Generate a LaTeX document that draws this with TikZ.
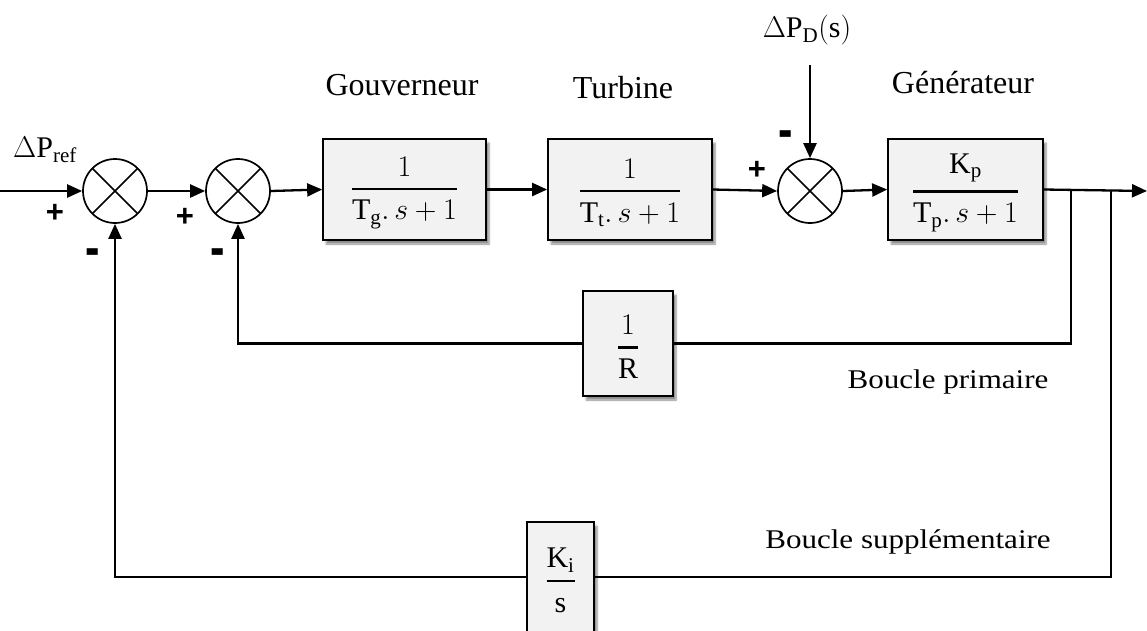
\RequirePackage{fix-cm}
\documentclass[tikz,border=0pt]{standalone}
\usepackage{amsmath}
\usepackage{fontspec}
\setmainfont{Liberation Serif}
\setsansfont{Liberation Sans}
\usetikzlibrary{arrows.meta,shadows.blur}

% transfer-function fraction with a heavy bar and open spacing
\newcommand\blockfrac[2]{\ensuremath{\displaystyle
  \genfrac{}{}{2.6pt}{0}{\rule[-3pt]{0pt}{29pt}#1}{\rule{0pt}{22pt}#2}}}
\definecolor{blockfill}{RGB}{242,242,242}

\begin{document}
\begin{tikzpicture}[x=1pt,y=-1pt,line width=2.3pt,
  >={Triangle[length=15pt,width=13pt]},
  block/.style={draw,fill=blockfill,line width=1.7pt,inner sep=0pt,
    blur shadow={shadow xshift=3pt,shadow yshift=-4pt,shadow blur steps=6,shadow opacity=45},
    font=\fontsize{30}{34}\selectfont},
  sum/.style={draw,circle,minimum size=64pt,inner sep=0pt,line width=1.7pt,fill=white,
    path picture={\draw[line width=1.7pt]
      (path picture bounding box.north west) -- (path picture bounding box.south east)
      (path picture bounding box.north east) -- (path picture bounding box.south west);}},
  title/.style={font=\fontsize{32}{36}\selectfont},
  loop/.style={font=\fontsize{27}{30}\selectfont},
  sign/.style={font=\sffamily\bfseries\fontsize{31}{31}\selectfont,inner sep=0pt},
  math/.style={font=\fontsize{30}{34}\selectfont}]
\useasboundingbox (0,0) rectangle (1147,630);

% summing junctions
\node[sum] (s1) at (115,191) {};
\node[sum] (s2) at (238,191) {};
\node[sum] (s3) at (810,191) {};

% transfer-function blocks
\node[block,minimum width=163pt,minimum height=101pt] (gov) at (404.5,189.5)
  {\blockfrac{1}{\mathrm{T_g}.\,s+1}};
\node[block,minimum width=164pt,minimum height=101pt] (tur) at (630,189.5)
  {\blockfrac{1}{\mathrm{T_t}.\,s+1}};
\node[block,minimum width=155pt,minimum height=101pt] (gen) at (965.5,189.5)
  {\blockfrac{\mathrm{K_p}}{\mathrm{T_p}.\,s+1}};
\node[block,minimum width=90pt,minimum height=105pt] (r) at (628,343.5)
  {\blockfrac{1}{\mathrm{R}}};
\node[block,minimum width=67pt,minimum height=110pt] (ki) at (560.5,577)
  {\blockfrac{\mathrm{K_i}}{\mathrm{s}}};

% block titles and inputs
\node[title] (tgov) at (402,85) {Gouverneur};
\node[title] (ttur) at (623,88) {Turbine};
\node[title] (tgen) at (963,83) {Générateur};
\node[math] (pref) at (45,150) {$\Delta\mathrm{P_{ref}}$};
\node[math] (pd) at (807,30) {$\Delta\mathrm{P_D(s)}$};
\node[loop] (lp) at (948,382) {\scalebox{1.15}[1]{Boucle primaire}};
\node[loop] (ls) at (908,542) {\scalebox{1.15}[1]{Boucle supplémentaire}};

% signs at the junctions
\node[sign] (p1) at (55,213) {+};
\node[sign] (m1) at (93,258) {\scalebox{1.4}[1.8]{-}};
\node[sign] (p2) at (185,217) {+};
\node[sign] (m2) at (218,258) {\scalebox{1.4}[1.8]{-}};
\node[sign] (p3) at (757,170) {+};
\node[sign] (m3) at (786,140) {\scalebox{1.4}[1.8]{-}};

% branch points and free ends
\coordinate (in) at (0,191);
\coordinate (out) at (1147,191);
\coordinate (b1) at (1071,191);
\coordinate (b2) at (1111,191);
\coordinate (pdtop) at (810,65);

% forward path
\draw[->] (in) -- (s1.west);
\draw[->] (s1.east) -- (s2.west);
\draw[->] (s2.east) -- (gov.west);
\draw[->] (gov.east) -- (tur.west);
\draw[->] (tur.east) -- (s3.west);
\draw[->] (s3.east) -- (gen.west);
\draw[->] (gen.east) -- (out);
\draw[->] (pdtop) -- (s3.north);

% primary loop
\draw (b1) |- (r.east);
\draw[->] (r.west) -| (s2.south);

% supplementary loop
\draw (b2) |- (ki.east);
\draw[->] (ki.west) -| (s1.south);
\end{tikzpicture}
\end{document}
